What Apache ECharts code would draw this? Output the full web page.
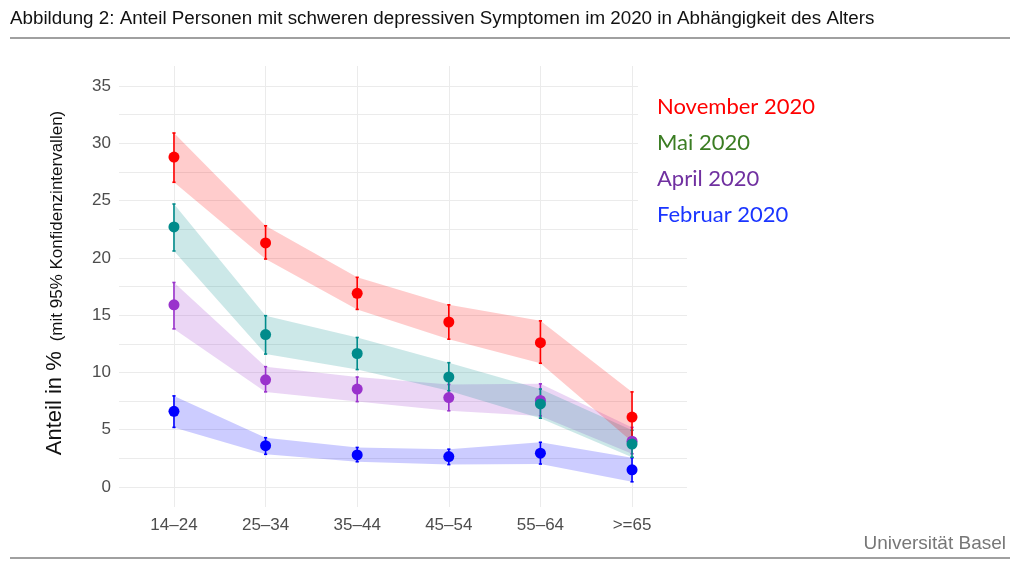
<!DOCTYPE html>
<html><head><meta charset="utf-8">
<script src="https://cdn.jsdelivr.net/npm/echarts@6/dist/echarts.min.js"></script>
<style>html,body{margin:0;padding:0;background:#fff}#c{width:1024px;height:568px}</style>
</head><body><div id="c"></div>
<script>
// ---- data ----
const categories = ['14–24', '25–34', '35–44', '45–54', '55–64', '>=65'];
const yTicks = [0, 5, 10, 15, 20, 25, 30, 35];
const yGrid = [0, 2.5, 5, 7.5, 10, 12.5, 15, 17.5, 20, 22.5, 25, 27.5, 30, 32.5, 35];

const novMean = [28.8, 21.3, 16.9, 14.4, 12.6, 6.1];
const novLow  = [26.6, 19.9, 15.5, 12.9, 10.8, 3.95];
const novHigh = [30.9, 22.8, 18.3, 15.9, 14.5, 8.3];

const maiMean = [22.7, 13.3, 11.65, 9.6, 7.25, 3.75];
const maiLow  = [20.6, 11.6, 10.25, 8.4, 6.0, 2.6];
const maiHigh = [24.7, 14.95, 13.05, 10.85, 8.55, 4.95];

const aprMean = [15.9, 9.35, 8.55, 7.8, 7.55, 4.0];
const aprLow  = [13.8, 8.3, 7.45, 6.65, 6.2, 2.9];
const aprHigh = [17.85, 10.5, 9.6, 8.95, 9.0, 5.2];

const febMean = [6.6, 3.6, 2.8, 2.65, 2.95, 1.5];
const febLow  = [5.2, 2.85, 2.2, 1.95, 2.0, 0.45];
const febHigh = [7.95, 4.3, 3.45, 3.3, 3.9, 2.55];

const legendLabels = ['November 2020', 'Mai 2020', 'April 2020', 'Februar 2020'];

// ---- chart ----
const chart = echarts.init(document.getElementById('c'), null, {renderer: 'canvas'});

function ribbon(low, high, fill) {
  return {
    type: 'custom', silent: true, z: 1,
    data: low.map((v, i) => [i, v, high[i]]),
    encode: {x: 0, y: [1, 2]},
    renderItem: function (params, api) {
      if (params.dataIndex !== 0) return null;
      const pts = [];
      for (let i = 0; i < low.length; i++) pts.push(api.coord([i, high[i]]));
      for (let i = low.length - 1; i >= 0; i--) pts.push(api.coord([i, low[i]]));
      return {type: 'polygon', shape: {points: pts}, style: {fill: fill}};
    }
  };
}
function errbar(low, high, color) {
  return {
    type: 'custom', silent: true, z: 3,
    data: low.map((v, i) => [i, v, high[i]]),
    encode: {x: 0, y: [1, 2]},
    renderItem: function (params, api) {
      const x = api.value(0);
      const a = api.coord([x, api.value(1)]);
      const b = api.coord([x, api.value(2)]);
      const w = 1.6;
      const st = {stroke: color, lineWidth: 1.6};
      return {type: 'group', children: [
        {type: 'line', shape: {x1: a[0], y1: a[1], x2: b[0], y2: b[1]}, style: st},
        {type: 'line', shape: {x1: a[0] - w, y1: a[1], x2: a[0] + w, y2: a[1]}, style: st},
        {type: 'line', shape: {x1: b[0] - w, y1: b[1], x2: b[0] + w, y2: b[1]}, style: st}
      ]};
    }
  };
}
function points(mean, color) {
  return {
    type: 'scatter', silent: true, z: 4,
    data: mean.map((v, i) => [i, v]),
    symbol: 'circle', symbolSize: 11,
    itemStyle: {color: color, opacity: 1}
  };
}

const groups = [
  {mean: febMean, low: febLow, high: febHigh, color: '#0000FF', fill: 'rgba(0,0,255,0.2)'},
  {mean: aprMean, low: aprLow, high: aprHigh, color: '#9932CC', fill: 'rgba(153,50,204,0.2)'},
  {mean: maiMean, low: maiLow, high: maiHigh, color: '#008B8B', fill: 'rgba(0,139,139,0.2)'},
  {mean: novMean, low: novLow, high: novHigh, color: '#FF0000', fill: 'rgba(255,0,0,0.2)'}
];
const series = [];
groups.forEach(g => series.push(ribbon(g.low, g.high, g.fill)));
groups.forEach(g => { series.push(errbar(g.low, g.high, g.color)); series.push(points(g.mean, g.color)); });

const legendColors = ['#FF0000', '#3B7D23', '#7030A0', '#1A35FF'];
const legendGraphics = legendLabels.map((t, i) => ({
  type: 'text', x: 657, y: 107 + i * 36, z: 20,
  style: {text: t, fill: legendColors[i], font: '22px Lato', textVerticalAlign: 'middle'}
}));

const option = {
  backgroundColor: '#fff',
  animation: false,
  grid: {left: 119, right: 337, top: 66, bottom: 61, containLabel: false},
  xAxis: {
    type: 'value', min: -0.6, max: 5.6,
    axisLine: {show: false},
    axisTick: {show: false, customValues: [0, 1, 2, 3, 4, 5]},
    axisLabel: {
      customValues: [0, 1, 2, 3, 4, 5],
      formatter: v => categories[Math.round(v)],
      color: '#4d4d4d', fontSize: 17, fontFamily: 'Liberation Sans', margin: 10
    },
    splitLine: {show: true, lineStyle: {color: '#ebebeb', width: 1}}
  },
  yAxis: {
    type: 'value', min: -1.75, max: 36.75,
    axisLine: {show: false},
    axisTick: {show: false, customValues: yGrid},
    axisLabel: {
      customValues: yTicks,
      color: '#4d4d4d', fontSize: 17, fontFamily: 'Liberation Sans', margin: 8
    },
    splitLine: {show: true, lineStyle: {color: '#ebebeb', width: 1}}
  },
  graphic: [
    {type: 'text', x: 10, y: 19, z: 20,
     style: {text: 'Abbildung 2: Anteil Personen mit schweren depressiven Symptomen im 2020 in Abhängigkeit des Alters',
             fill: '#111', font: '18.8px "Liberation Sans"', textVerticalAlign: 'middle'}},
    {type: 'rect', z: 19, shape: {x: 10, y: 37, width: 1000, height: 2}, style: {fill: '#a0a0a0'}},
    {type: 'rect', z: 19, shape: {x: 10, y: 557, width: 1000, height: 2}, style: {fill: '#a0a0a0'}},
    {type: 'rect', z: 15, shape: {x: 638, y: 60, width: 60, height: 182}, style: {fill: '#fff'}},
    {type: 'text', z: 20, x: 1006, y: 544,
     style: {text: 'Universität Basel', fill: '#777', font: '19px "Liberation Sans"', textAlign: 'right', textVerticalAlign: 'middle'}},
    {type: 'text', z: 20, x: 55, y: 283, rotation: Math.PI / 2,
     style: {
       text: '{a|Anteil in %}   {b|(mit 95% Konfidenzintervallen)}',
       textAlign: 'center', textVerticalAlign: 'middle',
       rich: {
         a: {fontSize: 22, fontFamily: 'Liberation Sans', fill: '#111', verticalAlign: 'bottom'},
         b: {fontSize: 17, fontFamily: 'Liberation Sans', fill: '#111', verticalAlign: 'bottom'}
       }
     }}
  ].concat(legendGraphics),
  series: series
};
chart.setOption(option);
</script></body></html>
